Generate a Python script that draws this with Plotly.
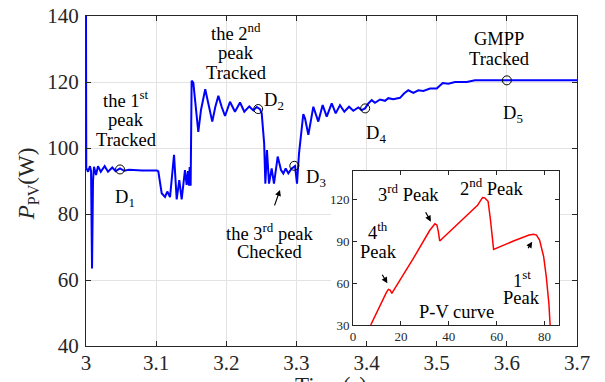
import plotly.graph_objects as go

# ---- main time series ----
t_vals = [3.0000, 3.0004, 3.0029, 3.0057, 3.0072, 3.0086, 3.0100, 3.0114, 3.0143, 3.0171, 3.0210,
          3.0266, 3.0314, 3.0375, 3.0423, 3.0485, 3.0542, 3.0613, 3.0800, 3.1011, 3.1031,
          3.1079, 3.1126, 3.1159, 3.1198, 3.1255, 3.1293, 3.1330, 3.1364, 3.1411, 3.1435,
          3.1454, 3.1468, 3.1478, 3.1492, 3.1506, 3.1530, 3.1564, 3.1601, 3.1640, 3.1700,
          3.1744, 3.1800, 3.1844, 3.1887, 3.1934, 3.1982, 3.2053, 3.2124, 3.2196, 3.2257,
          3.2328, 3.2385, 3.2434, 3.2481, 3.2505, 3.2540, 3.2557, 3.2580, 3.2609, 3.2647,
          3.2680, 3.2733, 3.2780, 3.2813, 3.2847, 3.2885, 3.2933, 3.2980, 3.3008, 3.3037,
          3.3098, 3.3122, 3.3170, 3.3241, 3.3312, 3.3374, 3.3432, 3.3503, 3.3560, 3.3621,
          3.3683, 3.3750, 3.3811, 3.3882, 3.3930, 3.3978, 3.4025, 3.4073, 3.4120, 3.4192,
          3.4263, 3.4310, 3.4380, 3.4477, 3.4534, 3.4595, 3.4667, 3.4738, 3.4810, 3.4905,
          3.5000, 3.5086, 3.5166, 3.5261, 3.5428, 3.5546, 3.6000, 3.7000]
p_vals = [140.0, 94.0, 92.8, 94.5, 93.0, 63.5, 90.0, 94.3, 91.8, 94.5, 92.8,
          94.5, 92.8, 94.1, 93.0, 93.8, 93.1, 93.4, 93.2, 93.2, 92.9,
          86.3, 85.2, 86.8, 85.1, 97.9, 84.4, 90.3, 84.4, 93.3, 88.8,
          93.0, 88.6, 94.2, 88.6, 120.4, 119.8, 112.5, 104.9, 111.6, 117.8,
          113.5, 108.0, 112.5, 115.8, 112.5, 109.7, 114.0, 111.0, 113.8, 111.0,
          112.6, 111.4, 112.4, 111.8, 110.5, 101.4, 89.2, 99.4, 89.2, 93.8,
          89.2, 97.4, 93.3, 92.3, 93.8, 92.3, 93.8, 94.5, 89.2, 98.4,
          110.3, 109.0, 104.0, 112.5, 108.0, 113.0, 109.5, 113.5, 110.5, 113.0,
          111.0, 112.5, 111.3, 112.3, 111.5, 112.0, 113.5, 114.5, 113.7, 114.7,
          114.3, 115.1, 114.8, 115.2, 116.5, 117.5, 116.7, 117.5, 117.3, 118.0,
          118.0, 119.7, 119.5, 120.0, 120.0, 120.5, 120.5, 120.5]

# ---- D points ----
d_t = [3.0485, 3.2455, 3.2970, 3.3980, 3.6000]
d_p = [93.5, 111.8, 94.6, 112.0, 120.5]

# ---- inset P-V curve ----
v_vals = [7.4, 10.0, 12.5, 14.0, 14.8, 15.5, 16.2, 25.0, 32.0, 33.5, 34.2, 35.0, 35.6, 36.2,
          45.0, 52.0, 53.3, 54.1, 55.0, 55.8, 56.4, 57.4, 58.2, 58.7,
          67.0, 73.5, 75.4, 76.6, 77.9, 79.6, 80.7, 81.8, 82.3]
pv_vals = [30.0, 39.5, 48.5, 53.5, 55.5, 55.0, 52.6, 77.0, 97.5, 101.0, 102.3, 101.5, 97.0, 90.0,
           104.0, 115.5, 119.0, 121.0, 120.8, 119.5, 118.4, 105.0, 90.7, 84.0,
           90.0, 94.3, 94.8, 94.2, 90.7, 78.8, 64.5, 45.0, 30.0]

FONT = "Liberation Serif, Times New Roman, serif"
AX = "#262626"
TS = 18.5   # annotation text size

fig = go.Figure()
fig.add_trace(go.Scatter(x=t_vals, y=p_vals, mode="lines",
                         line=dict(color="#0000ff", width=2), xaxis="x", yaxis="y",
                         showlegend=False, hoverinfo="skip"))
fig.add_trace(go.Scatter(x=d_t, y=d_p, mode="markers",
                         marker=dict(symbol="circle-open", size=9, color="black",
                                     line=dict(width=1, color="black")),
                         xaxis="x", yaxis="y", showlegend=False, hoverinfo="skip"))
fig.add_trace(go.Scatter(x=v_vals, y=pv_vals, mode="lines",
                         line=dict(color="#ff0000", width=1.5), xaxis="x2", yaxis="y2",
                         showlegend=False, hoverinfo="skip"))

# white patch behind inset (covers main gridlines)
fig.add_shape(type="rect", xref="x", yref="y", x0=3.3493, x1=3.6744, y0=40, y1=93.03,
              fillcolor="white", line=dict(width=0), layer="between")

ann = []
def txt(x, y, s, size=TS, ref="", **kw):
    ann.append(dict(x=x, y=y, xref="x" + ref, yref="y" + ref, text=s, showarrow=False,
                    font=dict(family=FONT, size=size, color="black"), **kw))

# main annotations (one per line)
txt(3.0577, 115.0, "the 1<sup>st</sup>")
txt(3.0577, 108.5, "peak")
txt(3.0577, 102.4, "Tracked")
txt(3.2139, 135.3, "the 2<sup>nd</sup>")
txt(3.2139, 128.8, "peak")
txt(3.2139, 122.7, "Tracked")
txt(3.5888, 133.0, "GMPP")
txt(3.5888, 127.0, "Tracked")
txt(3.2623, 74.6, "the 3<sup>rd</sup> peak")
txt(3.2623, 68.5, "Checked")
txt(3.0550, 84.8, "D<sub>1</sub>")
txt(3.2680, 114.2, "D<sub>2</sub>")
txt(3.3279, 90.9, "D<sub>3</sub>")
txt(3.4134, 104.2, "D<sub>4</sub>")
txt(3.6088, 110.3, "D<sub>5</sub>")

# inset annotations
txt(10.46, 97.0, "4<sup>th</sup>", ref="2")
txt(10.46, 81.8, "Peak", ref="2")
txt(23.0, 124.5, "3<sup>rd</sup> Peak", ref="2")
txt(58.0, 128.8, "2<sup>nd</sup> Peak", ref="2")
txt(70.5, 63.0, "1<sup>st</sup>", ref="2")
txt(70.5, 49.3, "Peak", ref="2")
txt(43.4, 39.3, "P-V curve", ref="2")

def arrow(x, y, ax, ay, ref=""):
    ann.append(dict(x=x, y=y, xref="x" + ref, yref="y" + ref, text="", showarrow=True,
                    ax=ax, ay=ay, arrowhead=2, arrowsize=1, arrowwidth=1.2,
                    arrowcolor="black"))

arrow(3.2766, 87.3, -6, 17)
arrow(14.35, 59.8, -6, -10, ref="2")
arrow(32.5, 103.8, -6, -11, ref="2")
arrow(74.8, 89.5, -5, 8, ref="2")

# axis titles
ann.append(dict(x=-0.118, y=0.49, xref="paper", yref="paper", text="<i>P</i><sub>PV</sub>(W)",
                textangle=-90, showarrow=False, xanchor="center", yanchor="middle",
                font=dict(family=FONT, size=23, color=AX)))
ann.append(dict(x=0.499, y=-0.0758, xref="paper", yref="paper", text="Time(s)",
                showarrow=False, xanchor="center", yanchor="top",
                font=dict(family=FONT, size=23, color=AX)))

fig.update_layout(
    width=605, height=382,
    margin=dict(l=86, r=28, t=16, b=36, autoexpand=False),
    paper_bgcolor="white", plot_bgcolor="white",
    annotations=ann,
    xaxis=dict(domain=[0, 1], range=[3, 3.7], tickvals=[3, 3.1, 3.2, 3.3, 3.4, 3.5, 3.6, 3.7],
               ticktext=["3", "3.1", "3.2", "3.3", "3.4", "3.5", "3.6", "3.7"],
               showgrid=True, gridcolor="#e3e3e3", gridwidth=1, zeroline=False,
               showline=True, linecolor=AX, linewidth=1, mirror="ticks", automargin=False,
               ticks="inside", ticklen=5, tickcolor=AX, ticklabelstandoff=-2,
               tickfont=dict(family=FONT, size=21, color=AX), anchor="y"),
    yaxis=dict(domain=[0, 1], range=[40, 140], tickvals=[40, 60, 80, 100, 120, 140],
               showgrid=True, gridcolor="#e3e3e3", gridwidth=1, zeroline=False,
               showline=True, linecolor=AX, linewidth=1, mirror="ticks", automargin=False,
               ticks="inside", ticklen=5, tickcolor=AX, ticklabelstandoff=2,
               tickfont=dict(family=FONT, size=21, color=AX), anchor="x"),
    xaxis2=dict(domain=[0.5438, 0.9633], range=[0, 86], tickvals=[0, 20, 40, 60, 80],
                showgrid=False, zeroline=False, showline=True, linecolor=AX, linewidth=1,
                mirror="ticks", ticks="inside", ticklen=4, tickcolor=AX, ticklabelstandoff=-1,
                automargin=False,
                tickfont=dict(family=FONT, size=13, color=AX), anchor="y2"),
    yaxis2=dict(domain=[0.0636, 0.5303], range=[30, 140], tickvals=[30, 60, 90, 120],
                showgrid=False, zeroline=False, showline=True, linecolor=AX, linewidth=1,
                mirror="ticks", ticks="inside", ticklen=4, tickcolor=AX, automargin=False,
                tickfont=dict(family=FONT, size=13, color=AX), anchor="x2"),
)

fig.write_html("out.html")
